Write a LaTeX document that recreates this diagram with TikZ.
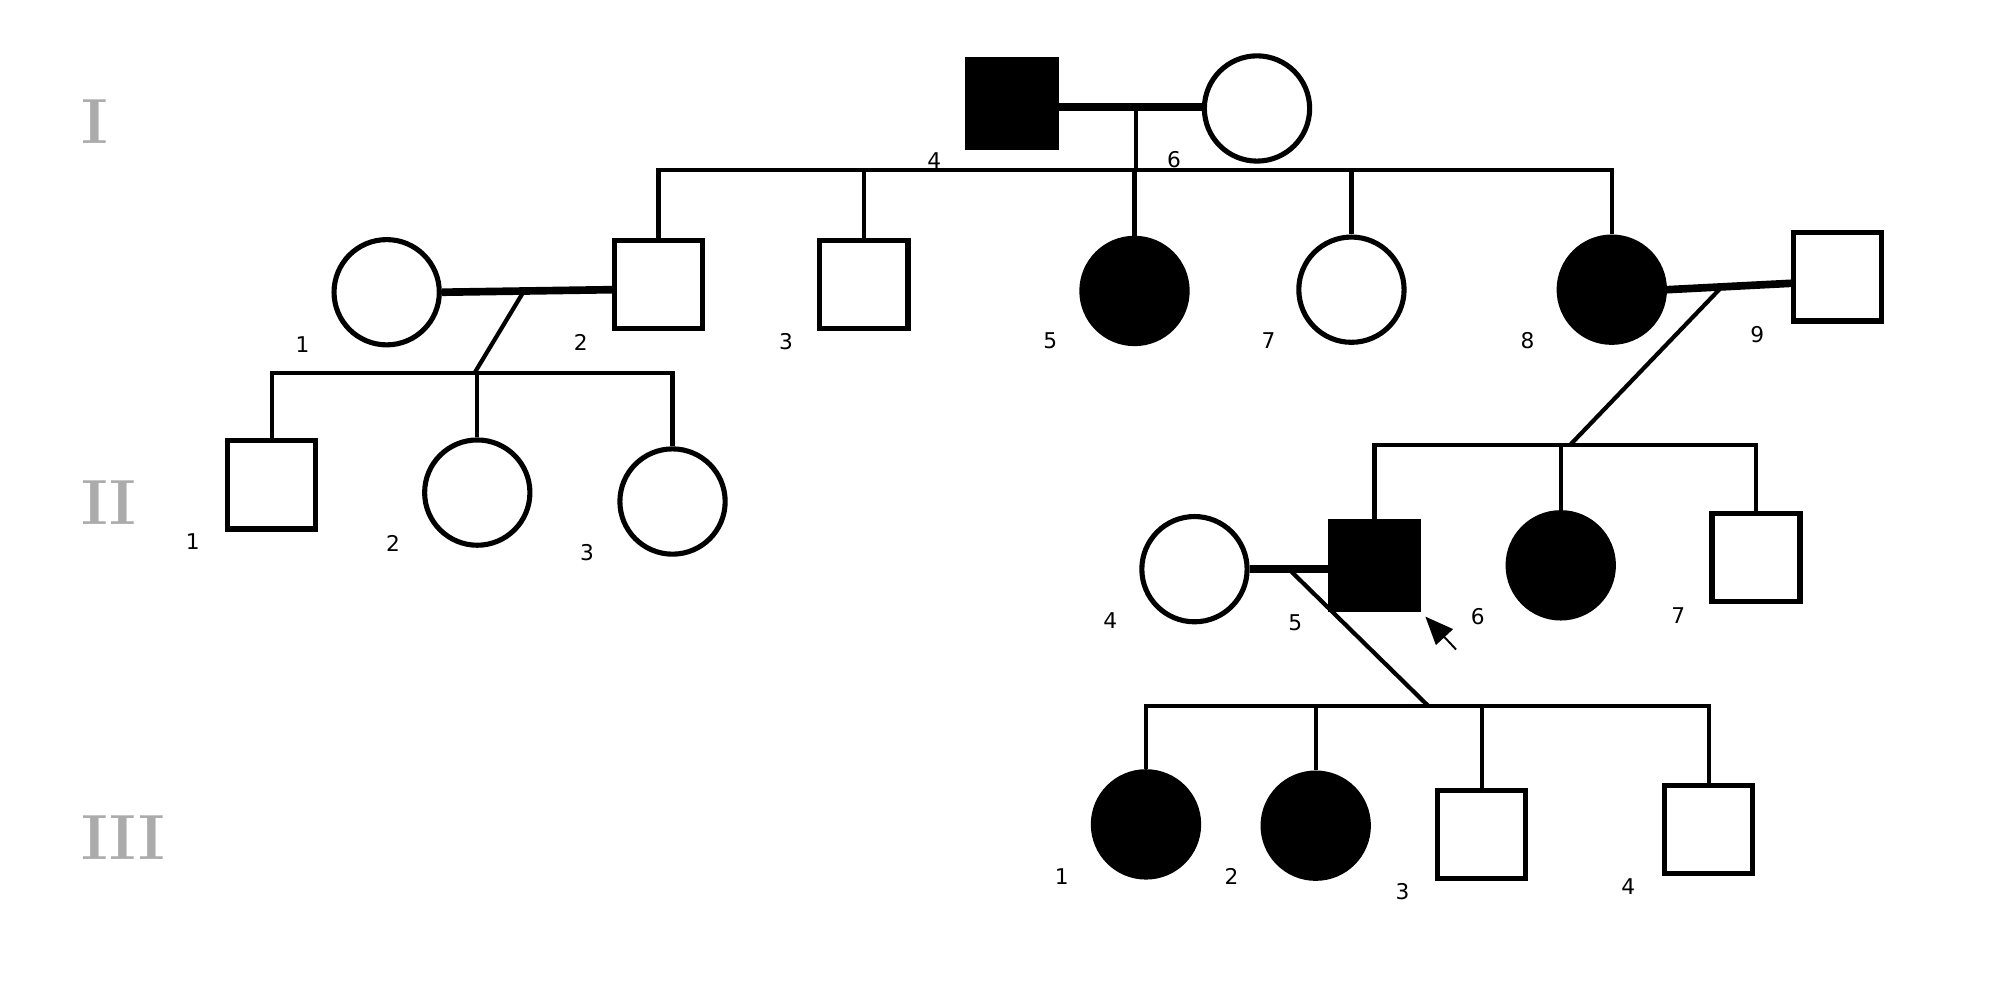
\documentclass[tikz,border=0pt]{standalone}
\usepackage{fontspec}
\usepackage{xcolor}
\usepackage{tikz}
\usetikzlibrary{positioning,arrows.meta,calc}
\newfontfamily\numfont{DejaVu Sans}
\definecolor{genGray}{HTML}{ABABAB}

\begin{document}
\begin{tikzpicture}[
  x=1pt, y=-1pt,
  line width=3.3pt,
  male/.style   = {draw, rectangle, line width=4pt, inner sep=0pt,
                   minimum size=69pt},
  female/.style = {draw, circle, line width=4pt, inner sep=0pt,
                   minimum size=82.5pt},
  aff/.style    = {fill=black},
  num/.style    = {font=\numfont\fontsize{17}{17}\selectfont, inner sep=0pt},
  gen/.style    = {font=\fontsize{50}{50}\selectfont\bfseries, text=genGray,
                   anchor=west, inner sep=0pt},
  mar/.style    = {line width=6pt},
  arr/.style    = {-{Triangle[length=22pt,width=18pt]}, line width=1.5pt,
                   shorten >=5pt}
]
\useasboundingbox (0,0) rectangle (1568,784);

% Generation labels
\node[gen] (gI)   at (62,95)  {I};
\node[gen] (gII)  at (62,394) {II};
\node[gen] (gIII) at (62,656) {III};

% Generation I
\node[male,aff] (I4) at (793,81) {};
\node[female]   (I6) at (985,85) {};
\node[num] (nI4) at (732,126) {4};
\node[num] (nI6) at (920,125) {6};

% Children of I and spouses
\node[female]     (Ib1) at (303,229)  {};
\node[male]       (Ib2) at (516,223)  {};
\node[male]       (Ib3) at (677,223)  {};
\node[female,aff] (Ib5) at (889,228)  {};
\node[female]     (Ib7) at (1059,227) {};
\node[female,aff] (Ib8) at (1263,227) {};
\node[male]       (Ib9) at (1440,217) {};
\node[num] (nIb1) at (237,270)  {1};
\node[num] (nIb2) at (455,268)  {2};
\node[num] (nIb3) at (616,268)  {3};
\node[num] (nIb5) at (823,267)  {5};
\node[num] (nIb7) at (994,267)  {7};
\node[num] (nIb8) at (1197,267) {8};
\node[num] (nIb9) at (1377,262) {9};

% Generation II
\node[male]       (II1) at (213,380)  {};
\node[female]     (II2) at (374,386)  {};
\node[female]     (II3) at (527,393)  {};
\node[female]     (II4) at (936,446)  {};
\node[male,aff]   (II5) at (1077,443) {};
\node[female,aff] (II6) at (1223,443) {};
\node[male]       (II7) at (1376,437) {};
\node[num] (nII1) at (151,424)  {1};
\node[num] (nII2) at (308,426)  {2};
\node[num] (nII3) at (460,433)  {3};
\node[num] (nII4) at (870,486)  {4};
\node[num] (nII5) at (1015,488) {5};
\node[num] (nII6) at (1158,483) {6};
\node[num] (nII7) at (1315,482) {7};

% Generation III
\node[female,aff] (III1) at (898,646)  {};
\node[female,aff] (III2) at (1031,647) {};
\node[male]       (III3) at (1161,654) {};
\node[male]       (III4) at (1339,650) {};
\node[num] (nIII1) at (832,687)  {1};
\node[num] (nIII2) at (965,687)  {2};
\node[num] (nIII3) at (1099,699) {3};
\node[num] (nIII4) at (1276,695) {4};

% Junction points
\coordinate (dI)  at (890,84);
\coordinate (sI)  at (890,133);
\coordinate (d12) at (410,229);
\coordinate (s12) at (372,292);
\coordinate (d89) at (1350,224);
\coordinate (s89) at (1230,349);
\coordinate (d45) at (1010,446);
\coordinate (s45) at (1119,553);
\coordinate (pr)  at (1141,509);

% Marriages
\draw[mar] (I4.east |- dI) -- (I6.west |- dI);
\draw[mar] (Ib1.east |- d12) -- (Ib2.west |- 0,227);
\draw[mar] (Ib8.east) -- ($(Ib9.west)+(0,5)$);
\draw[mar] (II4.east) -- (II5.west |- II4.east);

% Sibships
\draw (dI) -- (sI);
\draw (Ib2.north) |- (sI) -| (Ib8.north);
\draw (Ib3.north) -- (Ib3.north |- sI);
\draw (Ib5.north) -- (Ib5.north |- sI);
\draw (Ib7.north) -- (Ib7.north |- sI);

\draw (d12) -- (s12);
\draw (II1.north) |- (s12) -| (II3.north);
\draw (II2.north) -- (II2.north |- s12);

\draw (d89) -- (s89);
\draw (II5.north) |- (s89) -| (II7.north);
\draw (II6.north) -- (II6.north |- s89);

\draw (d45) -- (s45);
\draw (III1.north) |- (s45) -| (III4.north);
\draw (III2.north) -- (III2.north |- s45);
\draw (III3.north) -- (III3.north |- s45);

% Proband
\draw[arr] (pr) -- (II5.south east);
\end{tikzpicture}
\end{document}
